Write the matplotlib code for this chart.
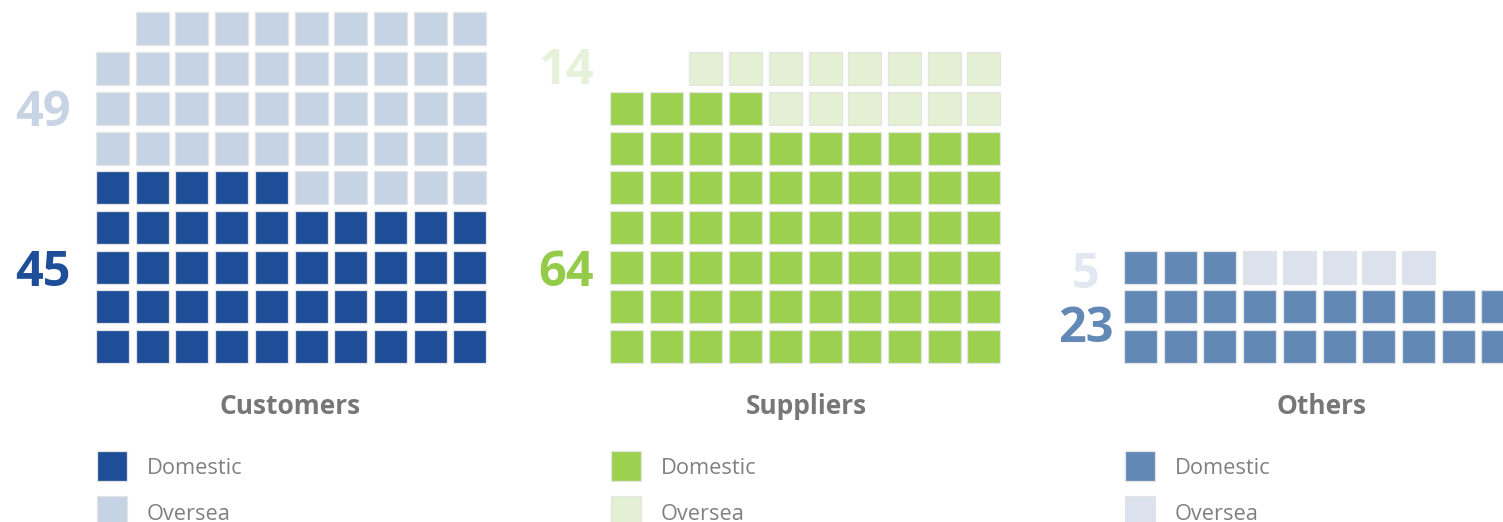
import matplotlib
matplotlib.use("Agg")
import matplotlib.pyplot as plt
from matplotlib.patches import Rectangle

# ---- data ----
categories = ["Customers", "Suppliers", "Others"]
series = ["Domestic", "Oversea"]
domestic = [45, 64, 23]
oversea = [49, 14, 5]
# cells actually drawn in the picture (the customers oversea grid shows 44 cells)
domestic_cells = [45, 64, 23]
oversea_cells = [44, 14, 5]

# ---- style ----
dom_colors = ["#1f4e99", "#9bd14e", "#6288b5"]
ovs_colors = ["#c6d3e5", "#e3f0d3", "#dbe2ee"]
dom_label_colors = ["#1f4e99", "#94cc4a", "#6288b5"]
ovs_label_colors = ["#c8d4e4", "#e6f1da", "#e2e8f1"]
grid_x0 = [96, 610, 1124]
label_x = [43, 566, 1086]
dom_label_y = [274, 274, 329]
ovs_label_y = [114, 71, 276]
title_x = [290, 806, 1321]

W, H = 1503, 522
fig = plt.figure(figsize=(W / 100, H / 100), dpi=100)
ax = fig.add_axes([0, 0, 1, 1])
ax.set_xlim(0, W)
ax.set_ylim(H, 0)
ax.axis("off")

pitch, size, bottom = 39.7, 33, 363
ncol = 10

for i, cat in enumerate(categories):
    nd, no = domestic_cells[i], oversea_cells[i]
    total = nd + no
    cells = [dom_colors[i]] * nd + [ovs_colors[i]] * no
    full_rows = total // ncol
    rem = total - full_rows * ncol
    for k, col in enumerate(cells):
        r = k // ncol
        c = k % ncol
        if r == full_rows and rem > 0:
            # partial top row: right-align when it holds only oversea cells
            if full_rows * ncol >= nd:
                c = c + (ncol - rem)
        x = grid_x0[i] + c * pitch
        y = bottom - r * pitch - size
        ax.add_patch(Rectangle((x, y), size, size, facecolor=col,
                               edgecolor="#e4e4e4", linewidth=0.9))
    ax.text(label_x[i], dom_label_y[i], str(domestic[i]), color=dom_label_colors[i],
            fontsize=35, fontweight="bold", family="Open Sans", ha="center", va="center")
    ax.text(label_x[i], ovs_label_y[i], str(oversea[i]), color=ovs_label_colors[i],
            fontsize=35, fontweight="bold", family="Open Sans", ha="center", va="center")
    ax.text(title_x[i], 406, cat, color="#777777", fontsize=19, fontweight="bold",
            family="Open Sans", ha="center", va="center")
    # legend
    for j, (s, colr) in enumerate(zip(series, [dom_colors[i], ovs_colors[i]])):
        ly = 451 + j * 45
        ax.add_patch(Rectangle((grid_x0[i] + 1, ly), 30, 30, facecolor=colr,
                               edgecolor="#e4e4e4", linewidth=0.9))
        ax.text(grid_x0[i] + 51, ly + 18, s, color="#808080", fontsize=15.7,
                family="Open Sans", ha="left", va="center")

fig.savefig("out.png", dpi=100)
